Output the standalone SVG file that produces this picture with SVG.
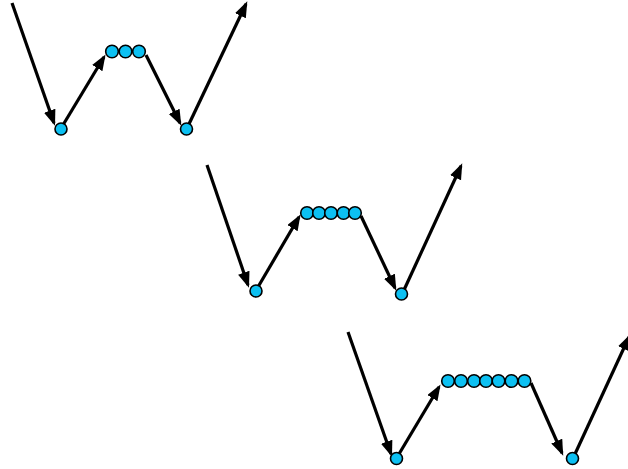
<svg xmlns="http://www.w3.org/2000/svg" width="628" height="469" viewBox="0 0 628 469">
<defs>
<marker id="ah" markerUnits="userSpaceOnUse" markerWidth="18" markerHeight="14" refX="13" refY="6" orient="auto">
<path d="M0,0 L16,6 L0,12 z" fill="#000"/>
</marker>
<style>
.c{fill:none;stroke:#000;stroke-width:3.2;marker-end:url(#ah)}
.n{fill:#0cc0f2;stroke:#000;stroke-width:1.6}
</style>
</defs>
<rect width="628" height="469" fill="#fff"/>
<g id="connectors">
<path class="c" d="M12,3 L54,123"/>
<path class="c" d="M63,125 L104,57"/>
<path class="c" d="M146,55 L180,123"/>
<path class="c" d="M189,124 L246,4"/>
<path class="c" d="M207,165 L248,285"/>
<path class="c" d="M258,287 L299,217"/>
<path class="c" d="M361,216 L395,288"/>
<path class="c" d="M404,290 L461,166"/>
<path class="c" d="M348,332 L391,454"/>
<path class="c" d="M399,454 L439,387"/>
<path class="c" d="M531,383 L562,453"/>
<path class="c" d="M575,454 L629,337"/>
</g>
<g id="group1">
<circle class="n" cx="61" cy="129" r="6"/>
<circle class="n" cx="112" cy="51.5" r="6.3"/>
<circle class="n" cx="125.5" cy="51.5" r="6.3"/>
<circle class="n" cx="139" cy="51.5" r="6.3"/>
<circle class="n" cx="186.5" cy="129" r="6"/>
</g>
<g id="group2">
<circle class="n" cx="256" cy="291" r="6"/>
<circle class="n" cx="307" cy="213" r="6.3"/>
<circle class="n" cx="319" cy="213" r="6.3"/>
<circle class="n" cx="331" cy="213" r="6.3"/>
<circle class="n" cx="343.5" cy="213" r="6.3"/>
<circle class="n" cx="355" cy="213" r="6.3"/>
<circle class="n" cx="401.5" cy="294" r="6"/>
</g>
<g id="group3">
<circle class="n" cx="396.5" cy="458.5" r="6"/>
<circle class="n" cx="448" cy="381" r="6.3"/>
<circle class="n" cx="461" cy="381" r="6.3"/>
<circle class="n" cx="474" cy="381" r="6.3"/>
<circle class="n" cx="486" cy="381" r="6.3"/>
<circle class="n" cx="498.5" cy="381" r="6.3"/>
<circle class="n" cx="511.5" cy="381" r="6.3"/>
<circle class="n" cx="524.5" cy="381" r="6.3"/>
<circle class="n" cx="572.5" cy="458.5" r="6"/>
</g>
</svg>
